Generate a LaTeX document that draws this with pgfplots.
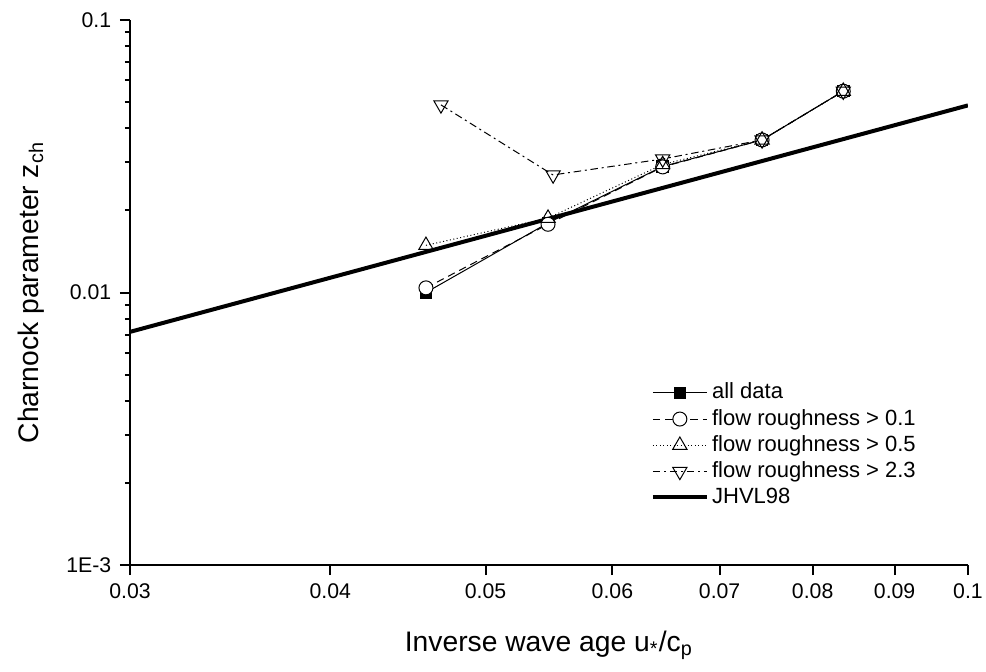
\documentclass[border=0pt]{standalone}
\usepackage{fontspec}
\setmainfont{Liberation Sans}
\usepackage{pgfplots}
\pgfplotsset{compat=1.18}
\begin{document}
\begin{tikzpicture}
\begin{loglogaxis}[
  name=ax,
  scale only axis,
  width=335.2pt, height=218pt,
  xmin=0.03, xmax=0.1, ymin=0.001, ymax=0.1,
  axis x line*=bottom, axis y line*=left,
  axis line style={line width=0.8pt, -},
  tick align=outside,
  major tick length=4pt, minor tick length=2pt,
  every tick/.style={line width=0.8pt, black},
  xtick={0.03,0.04,0.05,0.06,0.07,0.08,0.09,0.1},
  xticklabels={0.03,0.04,0.05,0.06,0.07,0.08,0.09,0.1},
  minor xtick={},
  ytick={0.001,0.01,0.1},
  yticklabels={1E-3,0.01,0.1},
  minor ytick={0.002,0.003,0.004,0.005,0.006,0.007,0.008,0.009,0.02,0.03,0.04,0.05,0.06,0.07,0.08,0.09},
  tick label style={font=\fontsize{8.5}{10}\selectfont},
  xlabel={Inverse wave age u\textsubscript{*}/c\textsubscript{p}},
  ylabel={Charnock parameter z\textsubscript{ch}},
  label style={font=\fontsize{11.3}{13.5}\selectfont},
  xlabel style={yshift=-6pt},
  ylabel style={yshift=2pt},
  legend style={at={(0.612,0.35)}, anchor=north west, draw=none, fill=none,
    font=\fontsize{8.8}{10.5}\selectfont, nodes={inner sep=1.3pt}, row sep=0pt},
  legend cell align=left,
  legend image code/.code={\draw[mark repeat=2,mark phase=2] plot coordinates {(0cm,0cm) (0.38cm,0cm) (0.76cm,0cm)};},
]
\addplot[black, line width=0.4pt, mark=square*, mark size=2.3pt, mark options={solid}]
  coordinates {(0.0459,0.0100) (0.0547,0.0180) (0.0645,0.0290) (0.0744,0.0363) (0.0836,0.0548)};
\addlegendentry{all data}
\addplot[black, line width=0.4pt, densely dashed, mark=*, mark size=2.8pt, mark options={solid, fill=white}]
  coordinates {(0.0459,0.0104) (0.0547,0.0178) (0.0645,0.0289) (0.0744,0.0363) (0.0836,0.0548)};
\addlegendentry{flow roughness > 0.1}
\addplot[black, line width=0.4pt, densely dotted, mark=triangle, mark size=3.3pt, mark options={solid}]
  coordinates {(0.0459,0.0149) (0.0547,0.01875) (0.0645,0.0295) (0.0744,0.0363) (0.0836,0.0548)};
\addlegendentry{flow roughness > 0.5}
\addplot[black, line width=0.4pt, dash pattern=on 3pt off 1.5pt on 0.8pt off 1.5pt, mark=triangle, mark size=3.3pt, mark options={solid, rotate=180}]
  coordinates {(0.0469,0.0488) (0.0551,0.0270) (0.0645,0.0309) (0.0744,0.0363) (0.0836,0.0548)};
\addlegendentry{flow roughness > 2.3}
\addplot[black, line width=1.6pt, no marks]
  coordinates {(0.03,0.00717) (0.1,0.0486)};
\addlegendentry{JHVL98}
\end{loglogaxis}
\pgfresetboundingbox
\path[use as bounding box] ([shift={(-52pt,-42.4pt)}]ax.south west) rectangle ([shift={(7.2pt,8pt)}]ax.north east);
\end{tikzpicture}
\end{document}
